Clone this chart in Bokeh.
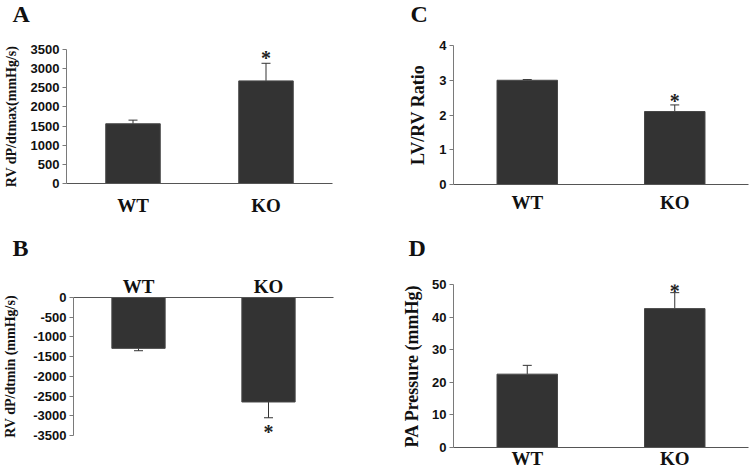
from bokeh.plotting import figure
from bokeh.models import (FactorRange, Range1d, FixedTicker, Whisker, TeeHead,
                          ColumnDataSource)
from bokeh.layouts import row, column
from bokeh.embed import file_html
from bokeh.resources import INLINE
from bokeh.core.properties import value

# ---------------- data ----------------
categories = ["WT", "KO"]

a_mean = [1560, 2680]
a_err = [95, 460]
a_sig = ["", "*"]
a_ticks = [0, 500, 1000, 1500, 2000, 2500, 3000, 3500]

b_mean = [-1290, -2650]
b_err = [60, 400]
b_sig = ["", "*"]
b_ticks = [0, -500, -1000, -1500, -2000, -2500, -3000, -3500]

c_mean = [3.0, 2.1]
c_err = [0.02, 0.19]
c_sig = ["", "*"]
c_ticks = [0, 1, 2, 3, 4]

d_mean = [22.5, 42.6]
d_err = [2.7, 4.9]
d_sig = ["", "*"]
d_ticks = [0, 10, 20, 30, 40, 50]

panel_letters = ["A", "C", "B", "D"]

SERIF = "Liberation Serif"
SANS = "Liberation Sans"
BAR = "#333333"
INK = "#111111"


def panel(means, errs, sigs, ticks, ylabel, ymin, ymax, width, height,
          borders, above=False, label_standoff=6, ylabel_size="14px",
          xlabel_standoff=10, star_offset=0):
    left, right, top, bottom = borders
    p = figure(width=width, height=height,
               x_range=FactorRange(factors=categories),
               y_range=Range1d(ymin, ymax),
               x_axis_location="above" if above else "below",
               output_backend="svg", toolbar_location=None,
               min_border_left=left, min_border_right=right,
               min_border_top=top, min_border_bottom=bottom)
    p.frame_align = False
    p.outline_line_color = None
    p.grid.visible = False
    p.background_fill_color = "white"
    p.border_fill_color = "white"

    neg = means[0] < 0
    hi = [m + e for m, e in zip(means, errs)]
    lo = [m - e for m, e in zip(means, errs)]
    src = ColumnDataSource(dict(x=categories, m=means, hi=hi, lo=lo, sig=sigs))

    p.vbar(x="x", top="m", bottom=0, width=0.41, source=src,
           fill_color=BAR, line_color="#474747", line_width=1)

    head = TeeHead(size=9, line_color="#333333", line_width=1)
    if neg:
        w = Whisker(base="x", upper="m", lower="lo", source=src,
                    line_color="#333333", line_width=1,
                    upper_head=None, lower_head=head)
        ystar = "lo"
    else:
        w = Whisker(base="x", upper="hi", lower="m", source=src,
                    line_color="#333333", line_width=1,
                    lower_head=None, upper_head=head)
        ystar = "hi"
    p.add_layout(w)
    p.text(x="x", y=ystar, text="sig", source=src, text_align="center",
           text_baseline="alphabetic", y_offset=star_offset,
           text_font=value(SERIF), text_font_style="bold",
           text_font_size="20px", text_color="#222222")

    # y axis
    ya = p.yaxis[0]
    ya.ticker = FixedTicker(ticks=ticks)
    ya.major_label_overrides = {t: str(t) for t in ticks}
    ya.minor_tick_line_color = None
    ya.major_tick_in = 0
    ya.major_tick_out = 4
    ya.major_label_standoff = 3
    ya.axis_line_color = "#7a7a7a"
    ya.major_tick_line_color = "#7a7a7a"
    ya.major_label_text_font = SANS
    ya.major_label_text_font_style = "bold"
    ya.major_label_text_font_size = "13px"
    ya.major_label_text_color = INK
    ya.axis_label = ylabel
    ya.axis_label_text_font = SERIF
    ya.axis_label_text_font_style = "bold"
    ya.axis_label_text_font_size = ylabel_size
    ya.axis_label_text_color = INK
    ya.axis_label_standoff = label_standoff

    # x axis
    xa = p.xaxis[0]
    xa.major_tick_line_color = None
    xa.major_tick_in = 0
    xa.major_tick_out = 0
    xa.minor_tick_line_color = None
    xa.axis_line_color = "#555555"
    xa.major_label_standoff = xlabel_standoff
    xa.major_label_text_font = SERIF
    xa.major_label_text_font_style = "bold"
    xa.major_label_text_font_size = "19px"
    xa.major_label_text_color = INK
    return p


def letter_box(letter, width, height, offset, standoff):
    p = figure(width=width, height=height, title=letter,
               x_axis_type=None, y_axis_type=None,
               output_backend="svg", toolbar_location=None,
               min_border_left=0, min_border_right=0,
               min_border_top=0, min_border_bottom=0)
    p.frame_align = False
    p.outline_line_color = None
    p.grid.visible = False
    t = p.title
    t.align = "left"
    t.vertical_align = "top"
    t.offset = offset
    t.standoff = standoff
    t.text_font = SERIF
    t.text_font_style = "bold"
    t.text_font_size = "24px"
    t.text_color = INK
    return p


pA = panel(a_mean, a_err, a_sig, a_ticks, "RV dP/dtmax(mmHg/s)", 0, 3500,
           370, 196, (66, 38, 15, 47), label_standoff=9, xlabel_standoff=11,
           star_offset=-5)
pC = panel(c_mean, c_err, c_sig, c_ticks, "LV/RV Ratio", 0, 4,
           380, 196, (83, 2, 11, 46), label_standoff=8, ylabel_size="18px",
           xlabel_standoff=7, star_offset=-4)
pB = panel(b_mean, b_err, b_sig, b_ticks, "RV dP/dtmin (mmHg/s)", -3500, 0,
           370, 200, (66, 37, 25, 37), above=True, label_standoff=12,
           xlabel_standoff=1, star_offset=14)
pD = panel(d_mean, d_err, d_sig, d_ticks, "PA Pressure (mmHg)", 0, 50,
           380, 200, (83, 2, 12, 25), label_standoff=7, ylabel_size="18px",
           xlabel_standoff=0, star_offset=-2)

lA = letter_box(panel_letters[0], 370, 34, 12, 1)
lC = letter_box(panel_letters[1], 380, 34, 40, 1)
lB = letter_box(panel_letters[2], 370, 42, 12, 9)
lD = letter_box(panel_letters[3], 380, 42, 38, 9)

layout = column(row(lA, lC), row(pA, pC), row(lB, lD), row(pB, pD))

open("out.html", "w").write(file_html(layout, INLINE))
